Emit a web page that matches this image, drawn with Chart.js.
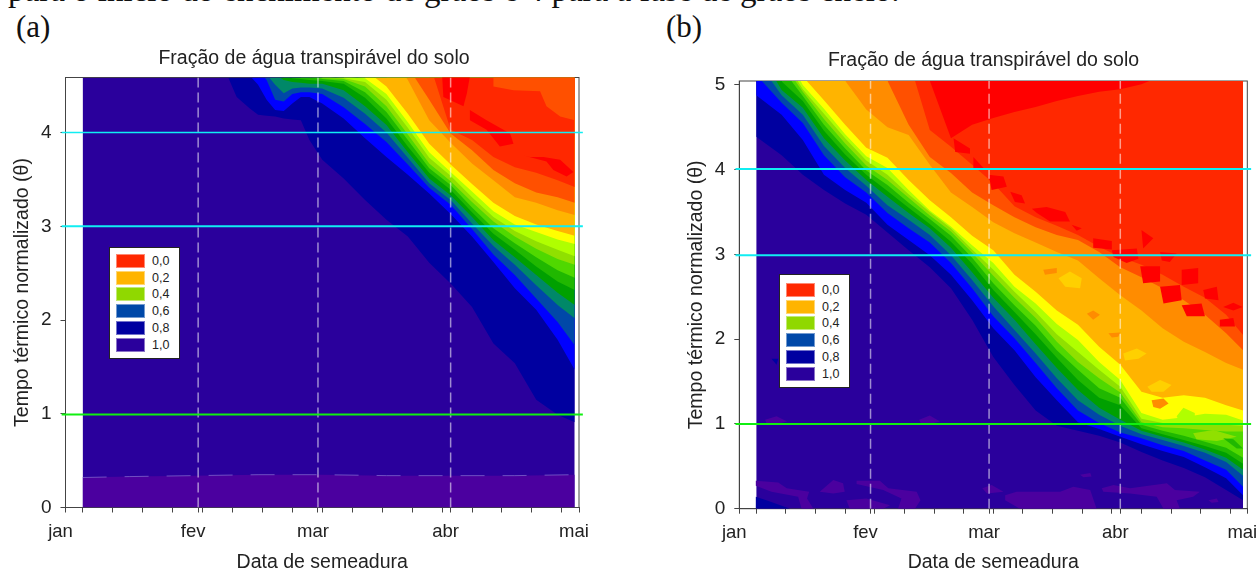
<!DOCTYPE html>
<html>
<head>
<meta charset="utf-8">
<style>
  html, body { margin: 0; padding: 0; background: #fff; width: 1258px; height: 572px; overflow: hidden; }
  canvas { position: absolute; top: 45px; }
  #chartA { left: 0; }
  #chartB { left: 685px; }
  .serif { position: absolute; font-family: "Liberation Serif", serif; color: #111; white-space: nowrap; }
  .legend { position: absolute; background: #fff; border: 1px solid #222; box-sizing: border-box; }
  .legend i { position: absolute; left: 6px; width: 29px; height: 14px; box-sizing: border-box; border: 1px solid rgba(255,255,255,.45); }
  .legend span { position: absolute; left: 42px; font: 12.5px "Liberation Sans", sans-serif; color: #222; line-height: 14px; }
</style>
</head>
<body>
<div class="serif" style="left:8px;top:-26px;font-size:33px;line-height:33px">para o início do enchimento de grãos e 4 para a fase de grãos cheio.</div>
<div class="serif" style="left:16px;top:11px;font-size:31px;line-height:31px">(a)</div>
<div class="serif" style="left:666px;top:11px;font-size:31px;line-height:31px">(b)</div>
<canvas id="chartA" width="628" height="537"></canvas>
<canvas id="chartB" width="597" height="537"></canvas>
<div class="legend" id="legendA" style="left:109px;top:247px;width:71px;height:112px"></div>
<div class="legend" id="legendB" style="left:779px;top:274px;width:71px;height:114px"></div>
<script src="https://cdn.jsdelivr.net/npm/chart.js@4/dist/chart.umd.min.js"></script>
<script>
const monthTicks = [0, 31, 59, 90, 120];
const monthLabels = ["jan", "fev", "mar", "abr", "mai"];
const weekTicks = [4, 11, 18, 25, 32, 39, 46, 53, 60, 67, 74, 81, 88, 95, 102, 109, 116];
const legendLabels = ["0,0", "0,2", "0,4", "0,6", "0,8", "1,0"];

// panel (a): theta of each contour, aligned to the tail of daysA
const daysA = [36, 38, 40, 43, 45, 47, 49, 51, 53, 55, 57, 60, 65, 70, 75, 80, 85, 90, 95, 100, 105, 110, 115, 119];
const contoursA = [
  [4.67, 4.59, 4.38, 4.26, 4.19, 4.18, 4.17, 4.15, 4.14, 4.13, 3.92, 3.71, 3.51, 3.28, 3.07, 2.89, 2.61, 2.39, 2.14, 1.75, 1.54, 1.15, 0.99, 0.91],
  [4.61, 4.51, 4.35, 4.24, 4.23, 4.31, 4.38, 4.38, 4.31, 4.15, 3.94, 3.74, 3.55, 3.35, 3.13, 2.89, 2.62, 2.34, 2.11, 1.79, 1.47],
  [4.67, 4.56, 4.35, 4.33, 4.41, 4.43, 4.43, 4.41, 4.27, 4.09, 3.90, 3.66, 3.41, 3.23, 2.97, 2.70, 2.48, 2.23, 1.98, 1.73],
  [4.62, 4.51, 4.42, 4.47, 4.48, 4.48, 4.47, 4.37, 4.20, 4.00, 3.73, 3.46, 3.28, 3.03, 2.79, 2.59, 2.37, 2.16, 2.02],
  [4.62, 4.56, 4.54, 4.53, 4.52, 4.52, 4.45, 4.28, 4.08, 3.79, 3.51, 3.33, 3.10, 2.85, 2.67, 2.48, 2.29, 2.16],
  [4.61, 4.58, 4.57, 4.56, 4.55, 4.52, 4.37, 4.15, 3.85, 3.57, 3.39, 3.15, 2.92, 2.75, 2.57, 2.41, 2.32],
  [4.61, 4.59, 4.57, 4.55, 4.43, 4.22, 3.92, 3.62, 3.44, 3.20, 2.98, 2.82, 2.67, 2.53, 2.45],
  [4.61, 4.58, 4.57, 4.49, 4.28, 3.98, 3.67, 3.48, 3.26, 3.05, 2.89, 2.76, 2.65, 2.59],
  [4.60, 4.58, 4.54, 4.35, 4.05, 3.73, 3.54, 3.31, 3.10, 2.95, 2.84, 2.75, 2.68],
  [4.60, 4.58, 4.41, 4.11, 3.79, 3.58, 3.37, 3.16, 3.02, 2.94, 2.86, 2.81],
  [4.67, 4.49, 4.20, 3.88, 3.66, 3.45, 3.25, 3.11, 3.02, 2.95, 2.90],
  [4.90, 4.56, 4.13, 3.89, 3.67, 3.49, 3.31, 3.25, 3.17, 3.12],
  [4.70, 4.35, 3.99, 3.81, 3.60, 3.46, 3.36, 3.31, 3.25],
  [4.75, 4.03, 3.92, 3.74, 3.63, 3.57, 3.49, 3.42],
];
const purpleDaysA = [4, 15, 30, 45, 60, 75, 90, 105, 119];
const purpleTopA = [0.32, 0.33, 0.34, 0.35, 0.35, 0.34, 0.34, 0.34, 0.35];
const orangeIslandsA = [
  [[100, 4.7], [100, 4.49], [104.7, 4.45], [110.9, 4.44], [112.4, 4.28], [115.6, 4.17], [119, 4.13], [119, 4.7]],
];
const redIslandsA = [
  [[87.9, 4.7], [94.9, 4.7], [93.8, 4.42], [93, 4.28], [88.3, 4.38]],
  [[94.5, 4.24], [98.4, 4.13], [103.9, 3.99], [104.7, 3.88], [101.5, 3.85], [98.4, 4.03], [94.5, 4.13]],
  [[106.6, 3.76], [108.5, 3.74], [111.7, 3.74], [115.6, 3.71], [118.7, 3.58], [117.1, 3.53], [114, 3.6], [112.4, 3.69]],
];

// panel (b): same layout
const daysB = [4, 10, 15, 20, 25, 30, 35, 40, 45, 50, 55, 60, 65, 70, 75, 80, 85, 90, 95, 100, 105, 110, 115, 119];
const contoursB = [
  [4.39, 4.17, 3.94, 3.76, 3.60, 3.47, 3.26, 3.05, 2.85, 2.60, 2.23, 1.79, 1.46, 1.16, 0.98, 0.92, 0.86, 0.78, 0.67, 0.57, 0.48, 0.37, 0.22, 0.10],
  [4.88, 4.65, 4.35, 3.94, 3.76, 3.61, 3.35, 3.17, 2.99, 2.76, 2.46, 2.13, 1.87, 1.55, 1.28, 1.02, 0.94, 0.85, 0.76, 0.68, 0.61, 0.49, 0.36, 0.16],
  [5.12, 4.79, 4.55, 4.17, 3.91, 3.73, 3.49, 3.31, 3.14, 2.90, 2.60, 2.27, 2.01, 1.72, 1.42, 1.16, 1.01, 0.90, 0.83, 0.75, 0.68, 0.57, 0.46, 0.26],
  [5.30, 4.88, 4.65, 4.28, 4.02, 3.81, 3.58, 3.41, 3.23, 2.99, 2.70, 2.39, 2.11, 1.83, 1.54, 1.28, 1.11, 0.98, 0.88, 0.81, 0.74, 0.66, 0.55, 0.39],
  [5.45, 4.94, 4.73, 4.37, 4.11, 3.88, 3.68, 3.49, 3.31, 3.08, 2.79, 2.49, 2.23, 1.94, 1.66, 1.40, 1.19, 1.05, 0.92, 0.85, 0.78, 0.70, 0.60, 0.46],
  [5.04, 4.81, 4.46, 4.18, 3.94, 3.75, 3.55, 3.36, 3.15, 2.89, 2.58, 2.32, 2.06, 1.78, 1.52, 1.31, 1.22, 0.95, 0.88, 0.81, 0.74, 0.66, 0.53],
  [5.20, 4.87, 4.53, 4.25, 3.99, 3.82, 3.61, 3.42, 3.22, 2.96, 2.66, 2.40, 2.16, 1.87, 1.64, 1.42, 1.31, 0.99, 0.92, 0.86, 0.79, 0.72, 0.60],
  [5.28, 4.92, 4.60, 4.31, 4.05, 3.88, 3.67, 3.46, 3.27, 3.02, 2.75, 2.49, 2.25, 1.97, 1.73, 1.54, 1.37, 1.02, 0.96, 0.95, 0.93, 0.91, 0.91],
  [5.35, 4.95, 4.66, 4.37, 4.11, 3.94, 3.71, 3.50, 3.31, 3.06, 2.82, 2.56, 2.32, 2.06, 1.85, 1.64, 1.44, 1.06, 1.01, 1.00, 1.00, 0.99, 0.98],
  [5.45, 5.00, 4.72, 4.42, 4.16, 4.02, 3.76, 3.52, 3.33, 3.11, 2.90, 2.62, 2.42, 2.18, 1.99, 1.73, 1.52, 1.13, 1.05, 1.08, 1.12, 1.11, 1.04],
  [5.10, 4.82, 4.53, 4.26, 4.14, 3.88, 3.64, 3.44, 3.22, 3.05, 2.76, 2.56, 2.34, 2.17, 1.91, 1.70, 1.38, 1.31, 1.34, 1.31, 1.22, 1.16],
  [5.05, 4.71, 4.50, 4.41, 4.06, 3.73, 3.56, 3.38, 3.25, 3.14, 3.03, 2.93, 2.72, 2.52, 2.34, 2.13, 1.97, 1.85, 1.72, 1.64],
  [5.05, 4.53, 4.15, 3.96, 3.73, 3.58, 3.44, 3.32, 3.23, 3.17, 3.03, 2.85, 2.73, 2.60, 2.46, 2.29, 2.07, 1.87],
  [5.30, 4.47, 4.27, 4.06, 3.84, 3.57, 3.44, 3.34, 3.23, 3.09, 2.97, 2.88, 2.76, 2.62, 2.49, 2.29, 2.05],
  [5.05, 4.37, 4.53, 4.61, 4.68, 4.74, 4.81, 4.87, 4.92, 4.95, 5.01, 5.11, 5.20, 5.20, 5.20, 5.20],
];
const redIslandsB = [
  [[50.6, 4.37], [54.5, 4.25], [54.5, 4.19], [51, 4.21]],
  [[55.3, 4.15], [57.7, 4.02], [55.3, 4.02]],
  [[58.9, 3.94], [62.4, 3.92], [63.2, 3.80], [59.6, 3.76]],
  [[64, 3.74], [66.7, 3.70], [67.5, 3.60], [65.1, 3.62]],
  [[69.1, 3.54], [72.6, 3.56], [77, 3.50], [78.1, 3.39], [73.4, 3.39], [70.3, 3.49]],
  [[78.5, 3.35], [80.9, 3.31], [79.7, 3.28]],
  [[83.6, 3.19], [88, 3.16], [88, 3.06], [83.6, 3.08]],
  [[88, 3.05], [93.9, 3.07], [94.3, 2.95], [91.5, 2.90], [88.4, 2.97]],
  [[95, 3.29], [97.8, 3.19], [95.4, 3.07]],
  [[99.4, 3.03], [103.3, 3.01], [101.7, 2.91], [99.8, 2.93]],
  [[94.7, 2.86], [99.4, 2.86], [99.4, 2.68], [95.4, 2.66]],
  [[104.5, 2.82], [108.4, 2.84], [108.4, 2.66], [104.5, 2.64]],
  [[99.4, 2.62], [104.1, 2.64], [104.5, 2.46], [100.2, 2.42]],
  [[109.6, 2.58], [112.8, 2.62], [113.2, 2.46], [110, 2.48]],
  [[104.5, 2.40], [109.2, 2.42], [110, 2.27], [105.7, 2.27]],
  [[114.3, 2.38], [116.7, 2.43], [118.9, 2.38], [116.7, 2.34]],
  [[113.5, 2.23], [116.7, 2.25], [117.1, 2.15], [113.5, 2.15]],
];
const amberIslandsB = [
  [[75.4, 2.72], [78.1, 2.80], [80.9, 2.72], [80.5, 2.60], [77, 2.62]],
  [[90.7, 1.83], [93.9, 1.89], [96.2, 1.83], [94.3, 1.77], [91.1, 1.75]],
  [[96.4, 1.44], [99.4, 1.52], [102.1, 1.46], [100.2, 1.38], [97.4, 1.38]],
];
const orangeIslandsB = [
  [[97.4, 1.28], [100.2, 1.30], [101.4, 1.24], [99.4, 1.18], [97.8, 1.20]],
  [[82.1, 2.30], [83.6, 2.34], [85.2, 2.29], [83.6, 2.23]],
  [[71.8, 2.82], [75, 2.84], [75, 2.78], [72.2, 2.76]],
  [[87.2, 2.07], [90, 2.08], [89.5, 2.03], [88, 2.02]],
];
const limeIslandsB = [[[103.3, 1.09], [104.9, 1.19], [107.6, 1.13], [107.6, 1.05], [104.1, 1.02]]];
const paleGreenIslandsB = [[[107.2, 0.89], [112, 0.93], [117.5, 0.85], [112.8, 0.80], [108, 0.82]]];
const greenIslandsB = [[[114.3, 0.83], [116.7, 0.82], [119, 0.71], [117.5, 0.71]]];
const purpleIslandsB = [
  [[3.9, 0.33], [9.2, 0.31], [11.2, 0.24], [16.5, 0.20], [16, 0.12], [17.5, 0], [14.7, 0], [13.9, 0.14], [7.6, 0.20], [3.9, 0.27]],
  [[19, 0.20], [22.2, 0.34], [24.5, 0.30], [24.9, 0.20], [22.2, 0.18]],
  [[27.7, 0.33], [33.2, 0.33], [35.2, 0.24], [41.9, 0.20], [42.8, 0.10], [41.5, 0], [37.5, 0], [38.3, 0.12], [34, 0.22], [27.7, 0.29]],
  [[25.3, 0.10], [30, 0.12], [35.6, 0.04], [34, 0], [26.1, 0]],
  [[6.1, 1.05], [8.8, 1.09], [11.3, 1.03], [8.8, 1.0], [6.4, 1.01]],
  [[42.5, 1.05], [45, 1.10], [47.4, 1.03], [45, 1.0], [42.8, 1.01]],
  [[57.4, 0.24], [59.6, 0.28], [62.4, 0.20], [58.5, 0.18]],
  [[62.8, 0.16], [65.5, 0.20], [75.8, 0.20], [78.9, 0.26], [82.9, 0.22], [84.4, 0], [66.3, 0], [62.8, 0.10]],
  [[85.6, 0.24], [88.4, 0.28], [92.3, 0.24], [101, 0.30], [102.9, 0.22], [108.8, 0.20], [107.2, 0.14], [103.3, 0.10], [104.1, 0], [100.2, 0], [98.6, 0.14], [92.3, 0.18], [86, 0.20]],
  [[110.8, 0.10], [112.8, 0.12], [113.2, 0.08], [111.6, 0.07]],
  [[80.5, 0.40], [82.9, 0.42], [83.2, 0.38], [81.3, 0.37]],
];
const navyIslandsB = [
  [[3.9, 0.14], [6.4, 0.10], [12, 0], [3.9, 0]],
  [[7.6, 1.77], [9.2, 1.77], [8.8, 1.70]],
];

const COLORS = {
  base: "#2a009c",
  purple: "#4b009f",
  bands: ["#0000a0", "#0000ff", "#0048a8", "#008868", "#00a000", "#20b800", "#50d800", "#90e000", "#b0ff00", "#ffff00",
          "#ffb400", "#ff8c00", "#ff5000", "#ff2800", "#ff0000"],
  legend: ["#ff2800", "#ffb400", "#90d800", "#0048a8", "#0000a0", "#2a009c"],
  cyan: "#10eef2",
  green: "#10f010",
  dash: "rgba(255,255,255,0.55)",
  axis: "#444",
  text: "#222",
};

const frame = {
  id: "frame",
  beforeDatasetsDraw(chart) {
    const a = chart.chartArea, c = chart.ctx;
    c.save();
    c.strokeStyle = COLORS.axis;
    c.lineWidth = 1;
    c.strokeRect(a.left, a.top, a.right - a.left, a.bottom - a.top);
    c.restore();
  },
};

function polygon(points, color) {
  const data = points.concat([points[0]]).map(([x, y]) => ({ x, y }));
  return { data, fill: "shape", backgroundColor: color, borderWidth: 0, pointRadius: 0, spanGaps: true };
}

function contourSets(days, contours) {
  return contours.map((ys, i) => {
    const xs = days.slice(-ys.length);
    return {
      data: ys.map((y, k) => ({ x: xs[k], y })),
      fill: "end", backgroundColor: COLORS.bands[i], borderWidth: 0, pointRadius: 0,
    };
  });
}

function draw(id, o) {
  const datasets = [
    {
      data: [{ x: 4, y: o.top }, { x: 119, y: o.top }],
      fill: "start", backgroundColor: COLORS.base, borderWidth: 0, pointRadius: 0,
    },
    ...o.under,
    ...contourSets(o.days, o.contours),
    ...o.over,
  ];
  for (const m of [31, 59, 90]) {
    datasets.push({
      data: [{ x: m, y: 0 }, { x: m, y: o.top }],
      borderColor: COLORS.dash, borderWidth: 1.5, borderDash: [10, 5], pointRadius: 0,
    });
  }
  for (const h of o.hlines) {
    datasets.push({
      data: [{ x: -0.9, y: h.y }, { x: 120.9, y: h.y }],
      borderColor: h.color, borderWidth: h.w, pointRadius: 0, clip: false,
    });
  }
  datasets.forEach((d, i) => { d.order = datasets.length - i; });

  new Chart(document.getElementById(id), {
    type: "line",
    data: { datasets },
    plugins: [frame],
    options: {
      responsive: false, animation: false,
      plugins: {
        legend: { display: false },
        tooltip: { enabled: false },
        title: {
          display: true, text: "Fração de água transpirável do solo", color: COLORS.text,
          font: { family: "Liberation Sans", size: 19.5, weight: "normal" },
          padding: o.titlePad,
        },
      },
      scales: {
        x: {
          type: "linear", min: 0, max: 120,
          afterBuildTicks: (ax) => { ax.ticks = monthTicks.concat(weekTicks).sort((a, b) => a - b).map((value) => ({ value })); },
          afterFit: (ax) => { ax.height = o.xHeight; },
          grid: { drawOnChartArea: false, tickLength: 5, tickColor: COLORS.axis },
          border: { color: COLORS.axis },
          ticks: {
            autoSkip: false, maxRotation: 0, labelOffset: -5, padding: 8.5, color: COLORS.text,
            font: { family: "Liberation Sans", size: 18.5 },
            callback: (v) => { const i = monthTicks.indexOf(v); return i < 0 ? "" : monthLabels[i]; },
          },
          title: {
            display: true, text: "Data de semeadura", color: COLORS.text,
            font: { family: "Liberation Sans", size: 19.5 },
            padding: { top: 0, bottom: 8 },
          },
        },
        y: {
          type: "linear", min: 0, max: o.top,
          afterBuildTicks: (ax) => { ax.ticks = o.yTicks.map((value) => ({ value })); },
          afterFit: (ax) => { ax.width = o.yWidth; },
          grid: { drawOnChartArea: false, tickLength: 5, tickColor: COLORS.axis },
          border: { color: COLORS.axis },
          ticks: { padding: 9, color: COLORS.text, font: { family: "Liberation Sans", size: 19 } },
          title: {
            display: true, text: "Tempo térmico normalizado (θ)", color: COLORS.text,
            font: { family: "Liberation Sans", size: 19.5 },
            padding: { top: o.yTitleTop, bottom: 0 },
          },
        },
        // empty right axis, keeps the plot off the canvas edge and the title centred on the canvas
        gap: {
          axis: "y", position: "right", display: true,
          afterFit: (ax) => { ax.width = o.gapRight; },
          grid: { display: false }, border: { display: false }, ticks: { display: false },
        },
      },
    },
  });
}

function buildLegend(id, first, step) {
  const box = document.getElementById(id);
  legendLabels.forEach((label, i) => {
    const sw = document.createElement("i");
    sw.style.top = first + i * step + "px";
    sw.style.background = COLORS.legend[i];
    const t = document.createElement("span");
    t.style.top = first + i * step + "px";
    t.textContent = label;
    box.appendChild(sw);
    box.appendChild(t);
  });
}

draw("chartA", {
  top: 4.587, gapRight: 49, yWidth: 65.5, xHeight: 74.5, yTitleTop: 11.3,
  titlePad: { top: 2, bottom: 7.1 },
  yTicks: [0, 1, 2, 3, 4],
  days: daysA, contours: contoursA,
  under: [
    {
      data: purpleDaysA.map((x, i) => ({ x, y: purpleTopA[i] })),
      fill: "start", backgroundColor: COLORS.purple, borderColor: "rgba(150,130,220,0.6)", borderWidth: 1, borderDash: [24, 18], pointRadius: 0,
    },
  ],
  over: [
    ...orangeIslandsA.map((p) => polygon(p, COLORS.bands[12])),
    ...redIslandsA.map((p) => polygon(p, COLORS.bands[14])),
  ],
  hlines: [
    { y: 4, color: COLORS.cyan, w: 1.5 },
    { y: 3, color: COLORS.cyan, w: 2 },
    { y: 0.992, color: COLORS.green, w: 2 },
  ],
});

draw("chartB", {
  top: 5.047, gapRight: 34.7, yWidth: 54.3, xHeight: 73.3, yTitleTop: 0.3,
  titlePad: { top: 4.3, bottom: 8.3 },
  yTicks: [0, 1, 2, 3, 4, 5],
  days: daysB, contours: contoursB,
  under: [
    ...purpleIslandsB.map((p) => polygon(p, COLORS.purple)),
    ...navyIslandsB.map((p) => polygon(p, COLORS.bands[0])),
  ],
  over: [
    ...amberIslandsB.map((p) => polygon(p, "#ffd000")),
    ...orangeIslandsB.map((p) => polygon(p, COLORS.bands[11])),
    ...limeIslandsB.map((p) => polygon(p, COLORS.bands[8])),
    ...paleGreenIslandsB.map((p) => polygon(p, COLORS.bands[7])),
    ...greenIslandsB.map((p) => polygon(p, COLORS.bands[5])),
    ...redIslandsB.map((p) => polygon(p, COLORS.bands[14])),
  ],
  hlines: [
    { y: 4.01, color: COLORS.cyan, w: 2 },
    { y: 2.99, color: COLORS.cyan, w: 2 },
    { y: 1, color: COLORS.green, w: 2 },
  ],
});

buildLegend("legendA", 6, 16.7);
buildLegend("legendB", 8, 16.7);
</script>
</body>
</html>
